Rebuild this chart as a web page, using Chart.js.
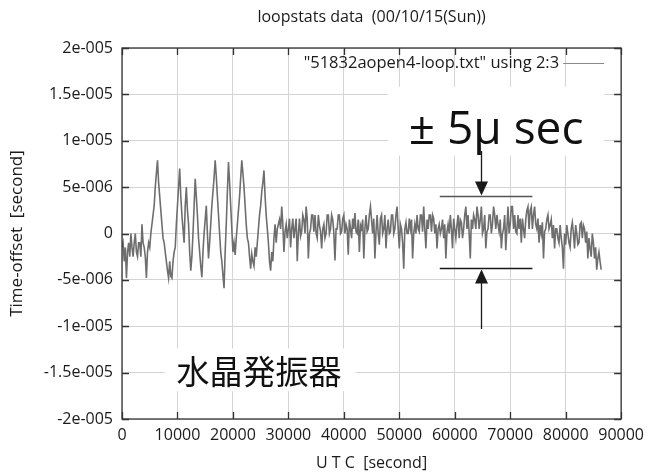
<!DOCTYPE html>
<html>
<head>
<meta charset="utf-8">
<script src="https://cdn.jsdelivr.net/npm/chart.js@4.4.0/dist/chart.umd.min.js"></script>
<style>
  html, body { margin: 0; padding: 0; background: #fff; }
  #c { display: block; }
</style>
</head>
<body>
<canvas id="c" width="651" height="475"></canvas>
<script>
// UTC seconds of each sample and the time offset in microseconds
const utcSeconds = [
  0, 400, 800, 1200, 1600, 2000, 2400, 2800, 3200, 3600,
  4000, 4400, 4800, 5200, 5600, 6000, 6400, 6800, 7200, 7600,
  8000, 8400, 8800, 9200, 9600, 10000, 10400, 10800, 11200, 11600,
  12000, 12400, 12800, 13200, 13600, 14000, 14400, 14800, 15200, 15600,
  16000, 16400, 16800, 17200, 17600, 18000, 18400, 18800, 19200, 19600,
  20000, 20400, 20800, 21200, 21600, 22000, 22400, 22800, 23200, 23600,
  24000, 24400, 24800, 25200, 25600, 26000, 26400, 26800, 27200, 27600,
  28000, 28400, 28800, 29200, 29600, 30000, 30400, 30800, 31200, 31600,
  32000, 32400, 32800, 33200, 33600, 34000, 34400, 34800, 35200, 35600,
  36000, 36400, 36800, 37200, 37600, 38000, 38400, 38800, 39200, 39600,
  40000, 40400, 40800, 41200, 41600, 42000, 42400, 42800, 43200, 43600,
  44000, 44400, 44800, 45200, 45600, 46000, 46400, 46800, 47200, 47600,
  48000, 48400, 48800, 49200, 49600, 50000, 50400, 50800, 51200, 51600,
  52000, 52400, 52800, 53200, 53600, 54000, 54400, 54800, 55200, 55600,
  56000, 56400, 56800, 57200, 57600, 58000, 58400, 58800, 59200, 59600,
  60000, 60400, 60800, 61200, 61600, 62000, 62400, 62800, 63200, 63600,
  64000, 64400, 64800, 65200, 65600, 66000, 66400, 66800, 67200, 67600,
  68000, 68400, 68800, 69200, 69600, 70000, 70400, 70800, 71200, 71600,
  72000, 72400, 72800, 73200, 73600, 74000, 74400, 74800, 75200, 75600,
  76000, 76400, 76800, 77200, 77600, 78000, 78400, 78800, 79200, 79600,
  80000, 80400, 80800, 81200, 81600, 82000, 82400, 82800, 83200, 83600,
  84000, 84400, 84800, 85200, 85600, 86000, 86400
];
const offsetMicro = [
  -1.5, -3, -4.8, -1, 0, -2.5, 0, -2.5, -1, 1,
  -1.5, -4.8, -1, 0, 2, 5, 7.9, 4, 1, -1,
  -3, -4.8, -4.6, -3, -1.5, 3, 7, 2, -1, 5,
  1, -4, 0, 5.9, 2, -2, -4.7, 0, 3, -2.7,
  1, 4.5, 7.9, 4, 0, -3, -5.9, 1, 7.7, 3,
  -2, -2.3, 1, 4, 7.9, 5, 1, -1, -3.8, -3,
  -1.5, -1, 2, 4.5, 6.8, 2, -1, -4, -3, 1,
  0.5, 1.5, 2.9, -2, 1, 0.5, -1.5, 1.6, 0.5, -3,
  1.6, 0.2, 1.5, 2.9, -2.7, 0.5, 2, 2, -0.5, 0.9,
  -1.6, 1, 0, 2, 0.5, 1.5, -2.9, 0.5, 2, 0.2,
  2, 1, -2.3, 0.5, 1.6, 2.2, 0, -2, 0.5, -2.7,
  2, 0.5, 2.9, 0, -2.7, 2, -1.2, 2, 0.5, -1.6,
  1.5, 0.2, 2, 0.5, 2.9, -1.6, 0.5, -3.8, 1.2, 0,
  0.5, -2.7, 1, 2, 0.2, 2, 2.9, -1.6, 0.5, 2,
  2, 0, -1.6, 1, 0.5, -0.5, -2.7, 1, 2, -1.6,
  0.5, 0.9, -0.5, 1.2, 0.5, 2.9, 2, -2.7, 0.5, 1.5,
  2.9, 0.5, 2.9, 0.5, -1.6, 0.5, 2, 1, 2, 2,
  0.2, -1.6, 0.5, -1.8, 2.9, 1, 2.9, 2, 0, 0.5,
  -1, 0.5, 1.5, 2.9, 2.5, 0.5, 2.9, 0.5, -1, 0,
  -2.7, 0.5, 2, 0.9, -0.5, -1.6, 0.5, -1, -0.5, -3.8,
  -1.2, 0, -1.5, 1.2, -1.6, 0, -1, 1.2, 0.9, -1,
  -2.7, -1.6, 0, -2.7, -3.9, -2, -3.9
];
// the samples taken in between (200 s later than each one above)
const utcSecondsMid = [
  200, 600, 1000, 1400, 1800, 2200, 2600, 3000, 3400, 3800,
  4200, 4600, 5000, 5400, 5800, 6200, 6600, 7000, 7400, 7800,
  8200, 8600, 9000, 9400, 9800, 10200, 10600, 11000, 11400, 11800,
  12200, 12600, 13000, 13400, 13800, 14200, 14600, 15000, 15400, 15800,
  16200, 16600, 17000, 17400, 17800, 18200, 18600, 19000, 19400, 19800,
  20200, 20600, 21000, 21400, 21800, 22200, 22600, 23000, 23400, 23800,
  24200, 24600, 25000, 25400, 25800, 26200, 26600, 27000, 27400, 27800,
  28200, 28600, 29000, 29400, 29800, 30200, 30600, 31000, 31400, 31800,
  32200, 32600, 33000, 33400, 33800, 34200, 34600, 35000, 35400, 35800,
  36200, 36600, 37000, 37400, 37800, 38200, 38600, 39000, 39400, 39800,
  40200, 40600, 41000, 41400, 41800, 42200, 42600, 43000, 43400, 43800,
  44200, 44600, 45000, 45400, 45800, 46200, 46600, 47000, 47400, 47800,
  48200, 48600, 49000, 49400, 49800, 50200, 50600, 51000, 51400, 51800,
  52200, 52600, 53000, 53400, 53800, 54200, 54600, 55000, 55400, 55800,
  56200, 56600, 57000, 57400, 57800, 58200, 58600, 59000, 59400, 59800,
  60200, 60600, 61000, 61400, 61800, 62200, 62600, 63000, 63400, 63800,
  64200, 64600, 65000, 65400, 65800, 66200, 66600, 67000, 67400, 67800,
  68200, 68600, 69000, 69400, 69800, 70200, 70600, 71000, 71400, 71800,
  72200, 72600, 73000, 73400, 73800, 74200, 74600, 75000, 75400, 75800,
  76200, 76600, 77000, 77400, 77800, 78200, 78600, 79000, 79400, 79800,
  80200, 80600, 81000, 81400, 81800, 82200, 82600, 83000, 83400, 83800,
  84200, 84600, 85000, 85400, 85800, 86200
];
const offsetMicroMid = [
  -1, -1.5, -2, -2.5, -1.5, -1, -2, -1, -2.5, -1,
  -2.5, -2, -1.5, 1, 3, 6.5, 5.5, 2.5, -0.5, -2,
  -4, -3, -4.8, -2, 1, 5, 4, 0.5, 3, 2.5,
  -2, -2.5, 3, 4, -0.5, -3.5, -2, 1.5, 0, -1,
  3, 6, 6.2, 2, -2, -4.5, -2, 4.5, 5.5, 0.5,
  -1, -0.5, 2.5, 6, 6.5, 3, -0.5, -2.5, -2.2, -3.5,
  -2.5, 0.5, 3, 5.5, 4, 0.5, -3, -2, -0.5, -1,
  1, 0.5, 1, 0.2, -0.5, 1.6, 0.5, -0.5, 1.6, 0,
  -0.3, 2, 0, 1.6, 0, 2, 0.2, 0, 2, 0.2,
  0.5, -0.5, 2, 0, 2, 0, 0.5, 2, 0, 1.6,
  0, 0.5, 1.5, -0.5, 0.5, 0.2, 1.5, 0.9, 1.5, 0.5,
  0.2, 2, 1.5, 1.6, 0.2, 0, 1.6, 0, 2, 0.5,
  0, 2, 0, 2, 0.5, 1, -1, 0.5, 0, 1.6,
  1.5, 0, 0, 0.5, 2, 0.2, 0.5, 1.5, 2, 0.2,
  1.6, 1, 0.5, 0, 1.5, 1, 0.2, 0, 0.5, 1.6,
  -0.5, 2, 1.5, -0.5, 2, 0.5, 0, 1.5, 2, 0.5,
  2, 1.5, 0, 2, 0.2, 2, 0, 2.9, 0.5, 1,
  1.5, 0, 2, 0.5, 0, 2.9, 0.5, 0.2, 2, 1.6,
  1.6, -0.5, 2.5, 0.5, 2.9, 2, 1, 1.6, 0.9, 1.2,
  0.2, 1.5, 0.5, 1.5, 0.9, 0.5, -0.5, 0.9, -1.5, 0,
  0.9, -1, 0.5, 0, 0.9, -1.2, 1, -0.5, 0.5, 0.2,
  -0.5, -2.5, -1, -1.5, -2.7, -3
];

const xTicks = [0, 10000, 20000, 30000, 40000, 50000, 60000, 70000, 80000, 90000];
const yTicksMicro = [-20, -15, -10, -5, 0, 5, 10, 15, 20];

const chartTitle = 'loopstats data  (00/10/15(Sun))';
const xTitle = 'U T C  [second]';
const yTitle = 'Time-offset  [second]';
const seriesLabel = '"51832aopen4-loop.txt" using 2:3';
const noteBand = '± 5μ sec';
const noteCrystal = '水晶発振器';

// gnuplot style number: 5e-006
function gnuExp(micro) {
  if (micro === 0) return '0';
  const s = Number((micro * 1e-6).toPrecision(6)).toExponential();
  return s.replace(/e([+-])(\d+)$/, (m, sign, d) => 'e' + sign + d.padStart(3, '0'));
}

// both sample lists, merged in time order
const points = [];
utcSeconds.forEach((t, i) => {
  points.push({ x: t, y: offsetMicro[i] });
  if (i < utcSecondsMid.length) points.push({ x: utcSecondsMid[i], y: offsetMicroMid[i] });
});

const FONT = "'Open Sans', 'Noto Sans', sans-serif";
Chart.defaults.font.family = FONT;
Chart.defaults.color = '#1a1a1a';

const gnuplotDecor = {
  id: 'gnuplotDecor',
  beforeDatasetsDraw(chart) {
    const { ctx, scales: { x, y } } = chart;
    ctx.save();
    ctx.fillStyle = '#fff';
    // white patches behind the two notes
    let x0 = x.getPixelForValue(48000), x1 = x.getPixelForValue(86900);
    let y0 = y.getPixelForValue(15.8), y1 = y.getPixelForValue(8.4);
    ctx.fillRect(x0, y0, x1 - x0, y1 - y0);
    x0 = x.getPixelForValue(7700); x1 = x.getPixelForValue(42100);
    y0 = y.getPixelForValue(-12.4); y1 = y.getPixelForValue(-17.0);
    ctx.fillRect(x0, y0, x1 - x0, y1 - y0);
    ctx.restore();
  },
  afterDatasetsDraw(chart) {
    const { ctx, chartArea: a, scales: { x, y } } = chart;
    ctx.save();

    // frame
    ctx.strokeStyle = '#333';
    ctx.lineWidth = 1.3;
    ctx.strokeRect(a.left, a.top, a.right - a.left, a.bottom - a.top);

    // inward tick marks on every side
    ctx.beginPath();
    yTicksMicro.forEach(v => {
      const py = Math.round(y.getPixelForValue(v)) + 0.5;
      ctx.moveTo(a.left, py); ctx.lineTo(a.left + 7, py);
      ctx.moveTo(a.right, py); ctx.lineTo(a.right - 7, py);
    });
    xTicks.forEach(v => {
      const px = Math.round(x.getPixelForValue(v)) + 0.5;
      ctx.moveTo(px, a.bottom); ctx.lineTo(px, a.bottom - 7);
      ctx.moveTo(px, a.top); ctx.lineTo(px, a.top + 7);
    });
    ctx.stroke();

    // title and axis titles
    ctx.fillStyle = '#1a1a1a';
    ctx.textAlign = 'center';
    ctx.textBaseline = 'middle';
    ctx.font = '16px ' + FONT;
    ctx.fillText(chartTitle, (a.left + a.right) / 2, 17);
    ctx.fillText(xTitle, (a.left + a.right) / 2, 463);
    ctx.save();
    ctx.translate(17, (a.top + a.bottom) / 2);
    ctx.rotate(-Math.PI / 2);
    ctx.font = '17px ' + FONT;
    ctx.fillText(yTitle, 0, 0);
    ctx.restore();

    // key
    ctx.font = '16.5px ' + FONT;
    ctx.textAlign = 'right';
    ctx.fillText(seriesLabel, a.right - 62, a.top + 15);
    ctx.strokeStyle = '#8a8a8a';
    ctx.lineWidth = 1;
    ctx.beginPath();
    ctx.moveTo(a.right - 58, a.top + 15.5);
    ctx.lineTo(a.right - 17, a.top + 15.5);
    ctx.stroke();

    // notes
    ctx.fillStyle = '#111';
    ctx.textAlign = 'left';
    ctx.textBaseline = 'alphabetic';
    ctx.font = '46px ' + FONT;
    ctx.fillText(noteBand, x.getPixelForValue(51700), y.getPixelForValue(9.6));
    ctx.textAlign = 'center';
    ctx.textBaseline = 'middle';
    ctx.font = '33px "Noto Sans CJK JP", sans-serif';
    ctx.fillText(noteCrystal, x.getPixelForValue(24700), y.getPixelForValue(-14.9));

    // band markers with arrows
    const lx0 = x.getPixelForValue(57300), lx1 = x.getPixelForValue(74000);
    const ax = Math.round(x.getPixelForValue(64750)) + 0.5;
    const upY = Math.round(y.getPixelForValue(4.0)) + 0.5;
    const loY = Math.round(y.getPixelForValue(-3.7)) + 0.5;
    ctx.lineWidth = 1.3;
    ctx.strokeStyle = '#555';
    ctx.beginPath(); ctx.moveTo(lx0, upY); ctx.lineTo(lx1, upY); ctx.stroke();
    ctx.strokeStyle = '#1a1a1a';
    ctx.beginPath(); ctx.moveTo(lx0, loY); ctx.lineTo(lx1, loY); ctx.stroke();

    ctx.beginPath();
    ctx.moveTo(ax, y.getPixelForValue(8.9)); ctx.lineTo(ax, upY - 8);
    ctx.moveTo(ax, loY + 8); ctx.lineTo(ax, y.getPixelForValue(-10.3));
    ctx.stroke();
    ctx.fillStyle = '#1a1a1a';
    ctx.beginPath();
    ctx.moveTo(ax, upY - 1); ctx.lineTo(ax - 6.5, upY - 15); ctx.lineTo(ax + 6.5, upY - 15); ctx.closePath();
    ctx.moveTo(ax, loY + 1); ctx.lineTo(ax - 6.5, loY + 15); ctx.lineTo(ax + 6.5, loY + 15); ctx.closePath();
    ctx.fill();

    ctx.restore();
  }
};

new Chart(document.getElementById('c'), {
  type: 'line',
  data: {
    datasets: [{
      label: seriesLabel,
      data: points,
      borderColor: '#6e6e6e',
      borderWidth: 1.6,
      pointRadius: 0,
      tension: 0,
      fill: false
    }]
  },
  options: {
    responsive: false,
    animation: false,
    devicePixelRatio: 1,
    layout: { padding: { top: 48, right: 27, left: 0, bottom: 0 } },
    plugins: {
      legend: { display: false },
      title: { display: false },
      tooltip: { enabled: false }
    },
    scales: {
      x: {
        type: 'linear',
        min: 0,
        max: 90000,
        afterFit: s => { s.height = 56; },
        afterBuildTicks: s => { s.ticks = xTicks.map(v => ({ value: v })); },
        ticks: {
          padding: 7,
          font: { size: 16 },
          color: '#1a1a1a',
          maxRotation: 0,
          callback: v => String(v)
        },
        grid: { color: '#d4d4d4', lineWidth: 1, drawTicks: false },
        border: { display: false }
      },
      y: {
        type: 'linear',
        min: -20,
        max: 20,
        afterFit: s => { s.width = 122; },
        afterBuildTicks: s => { s.ticks = yTicksMicro.map(v => ({ value: v })); },
        ticks: {
          padding: 9,
          font: { size: 16 },
          color: '#1a1a1a',
          callback: v => gnuExp(v)
        },
        grid: { color: '#d4d4d4', lineWidth: 1, drawTicks: false },
        border: { display: false }
      }
    }
  },
  plugins: [gnuplotDecor]
});
</script>
</body>
</html>
